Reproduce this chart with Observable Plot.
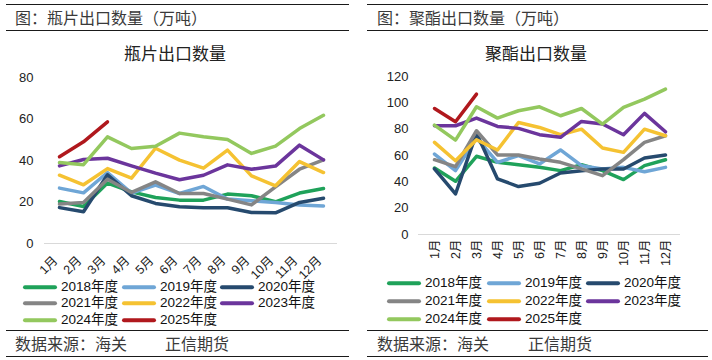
<!DOCTYPE html>
<html><head><meta charset="utf-8">
<script src="https://cdn.jsdelivr.net/npm/d3@7"></script>
<script src="https://cdn.jsdelivr.net/npm/@observablehq/plot@0.6"></script>
<style>
body{margin:0;width:712px;height:360px;background:#fff;position:relative;overflow:hidden;font-family:"Liberation Sans","Noto Sans CJK SC",sans-serif;}
.rule{position:absolute;height:0;border-top:1px solid #1a1a1a;}
.hdr{position:absolute;font-size:16px;color:#3a3a3a;font-family:"Noto Sans CJK SC",sans-serif;line-height:1;white-space:nowrap;}
.ttl{position:absolute;font-size:17px;color:#222;font-family:"Noto Sans CJK SC",sans-serif;line-height:1;white-space:nowrap;transform:translateX(-50%);}
.leg{position:absolute;display:flex;align-items:center;font-size:13.5px;color:#111;line-height:1;white-space:nowrap;transform:translateY(-50%);}
.leg span.sw{display:inline-block;width:34px;height:4px;border-radius:2px;margin-right:4px;}
.plotbox{position:absolute;}
</style></head>
<body>
<script>
const months = ["1月","2月","3月","4月","5月","6月","7月","8月","9月","10月","11月","12月"];
const years = ["2018年度","2019年度","2020年度","2021年度","2022年度","2023年度","2024年度","2025年度"];
const colors = ["#1fa25a","#6fa6d6","#264a6e","#858585","#f5c232","#6b359c","#93c85e","#b0181d"];

// 瓶片出口数量（万吨）
const bp2018 = [20.2,17.8,29.1,24.9,22.2,20.9,20.9,23.8,23.0,20.1,24.3,26.5];
const bp2019 = [26.7,24.4,34.2,24.3,28.1,24.1,27.5,21.4,20.6,19.8,18.5,18.1];
const bp2020 = [17.3,15.3,33.1,23.0,19.3,17.7,17.2,17.2,14.9,14.8,19.8,21.8];
const bp2021 = [19.0,19.8,31.0,24.6,29.7,24.1,24.1,21.4,18.6,27.3,35.8,40.3];
const bp2022 = [32.9,28.3,36.1,31.5,45.9,40.2,36.3,45.0,32.6,27.8,39.5,34.2];
const bp2023 = [37.4,40.5,41.1,37.4,33.9,30.7,32.9,37.9,35.8,37.3,47.4,40.3];
const bp2024 = [39.0,38.0,51.4,45.8,46.9,53.2,51.4,50.1,43.4,46.9,55.4,61.8];
const bp2025 = [41.8,49.0,58.6];

// 聚酯出口数量（万吨）
const pe2018 = [50.5,40.4,59.4,54.8,53.0,51.0,48.5,53.0,48.5,41.7,52.3,56.8];
const pe2019 = [61.1,48.5,73.3,54.8,59.9,53.6,64.2,52.3,49.8,51.0,47.7,51.0];
const pe2020 = [49.8,30.8,77.0,42.2,36.4,38.9,46.7,48.5,49.8,49.8,58.1,60.4];
const pe2021 = [56.8,51.5,78.8,60.4,60.4,57.3,54.8,49.8,44.7,56.8,70.0,75.0];
const pe2022 = [70.0,56.0,72.0,64.2,85.1,81.3,75.8,80.0,65.7,62.4,80.0,75.0];
const pe2023 = [82.6,82.6,88.4,82.1,80.6,75.8,73.8,85.9,83.9,75.8,92.0,78.0];
const pe2024 = [83.1,71.7,97.0,88.4,94.0,97.0,90.2,95.7,83.9,96.5,102.8,110.4];
const pe2025 = [95.7,85.6,106.6];

const yTicksBP = [0,20,40,60,80];
const yTicksPE = [0,20,40,60,80,100,120];

function toRows(series){
  const rows = [];
  series.forEach((vals,i)=>vals.forEach((v,j)=>rows.push({year:years[i],month:months[j],value:v})));
  return rows;
}
const bpRows = toRows([bp2018,bp2019,bp2020,bp2021,bp2022,bp2023,bp2024,bp2025]);
const peRows = toRows([pe2018,pe2019,pe2020,pe2021,pe2022,pe2023,pe2024,pe2025]);

function el(tag, cls, style, text){
  const e = document.createElement(tag);
  if (cls) e.className = cls;
  Object.assign(e.style, style);
  if (text != null) e.textContent = text;
  document.body.appendChild(e);
  return e;
}

function makePlot(rows, opts){
  return Plot.plot({
    width: opts.width, height: opts.height,
    marginLeft: opts.ml, marginRight: opts.mr, marginTop: opts.mt, marginBottom: opts.mb,
    style: {background:"transparent", fontFamily:"'Liberation Sans','Noto Sans CJK SC',sans-serif", fontSize:"13px", color:"#222"},
    x: {type:"point", domain: months, padding:0.5, label:null},
    y: {domain:[0, opts.ymax], ticks: opts.yticks, label:null},
    color: {domain: years, range: colors},
    marks: [
      Plot.ruleY([0], {stroke:"#d9d9d9", strokeWidth:1}),
      Plot.axisY({ticks: opts.yticks, tickSize:0, tickPadding: opts.ytp, label:null, fontSize:13}),
      Plot.axisX({tickSize:0, tickRotate: opts.rot, tickPadding: opts.xtp, dx: opts.xdx, label:null, fontSize:12.5}),
      Plot.line(rows, {x:"month", y:"value", z:"year", stroke:"year", strokeWidth:3.5, strokeLinejoin:"round", strokeLinecap:"round"})
    ]
  });
}

function panel(cfg){
  const x0 = cfg.x0;
  el("div","rule",{left:cfg.ruleL+"px",width:(cfg.ruleR-cfg.ruleL)+"px",top:"4px"});
  el("div","hdr",{left:cfg.hdrX+"px",top:"9px"}, cfg.header);
  el("div","rule",{left:cfg.ruleL+"px",width:(cfg.ruleR-cfg.ruleL)+"px",top:"30px"});
  el("div","ttl",{left:cfg.ttlX+"px",top:"44px"}, cfg.title);
  const box = el("div","plotbox",{left:x0+"px",top:cfg.plotTop+"px"});
  box.appendChild(makePlot(cfg.rows, cfg.plot));
  years.forEach((yr,i)=>{
    const c = i%3, r = Math.floor(i/3);
    const d = el("div","leg",{left:cfg.legX[c]+"px",top:cfg.legY[r]+"px"});
    const sw = document.createElement("span"); sw.className="sw"; sw.style.background=colors[i];
    d.appendChild(sw);
    d.appendChild(document.createTextNode(yr));
  });
  el("div","rule",{left:cfg.ruleL+"px",width:(cfg.ruleR-cfg.ruleL)+"px",top:"330px"});
  el("div","hdr",{left:cfg.hdrX+"px",top:"335px"}, "数据来源：海关");
  el("div","hdr",{left:cfg.srcX2+"px",top:"335px"}, "正信期货");
  el("div","rule",{left:cfg.ruleL+"px",width:(cfg.ruleR-cfg.ruleL)+"px",top:"356px"});
}

panel({
  x0:0, ruleL:6, ruleR:349, hdrX:15, ttlX:175, srcX2:165,
  header:"图：瓶片出口数量（万吨）", title:"瓶片出口数量", rows:bpRows,
  plotTop:65,
  plot:{width:355,height:218,ml:44,mr:18,mt:12,mb:40,ymax:80,yticks:yTicksBP,ytp:11,rot:-45,xtp:15,xdx:-4},
  legX:[23,122,220], legY:[287,303,320]
});
panel({
  x0:355, ruleL:367, ruleR:708, hdrX:377, ttlX:536, srcX2:528,
  header:"图：聚酯出口数量（万吨）", title:"聚酯出口数量", rows:peRows,
  plotTop:65,
  plot:{width:357,height:209,ml:63,mr:32,mt:11,mb:40,ymax:120,yticks:yTicksPE,ytp:10,rot:-90,xtp:5,xdx:0},
  legX:[387,487,586], legY:[283,301,319]
});
</script>
</body></html>
